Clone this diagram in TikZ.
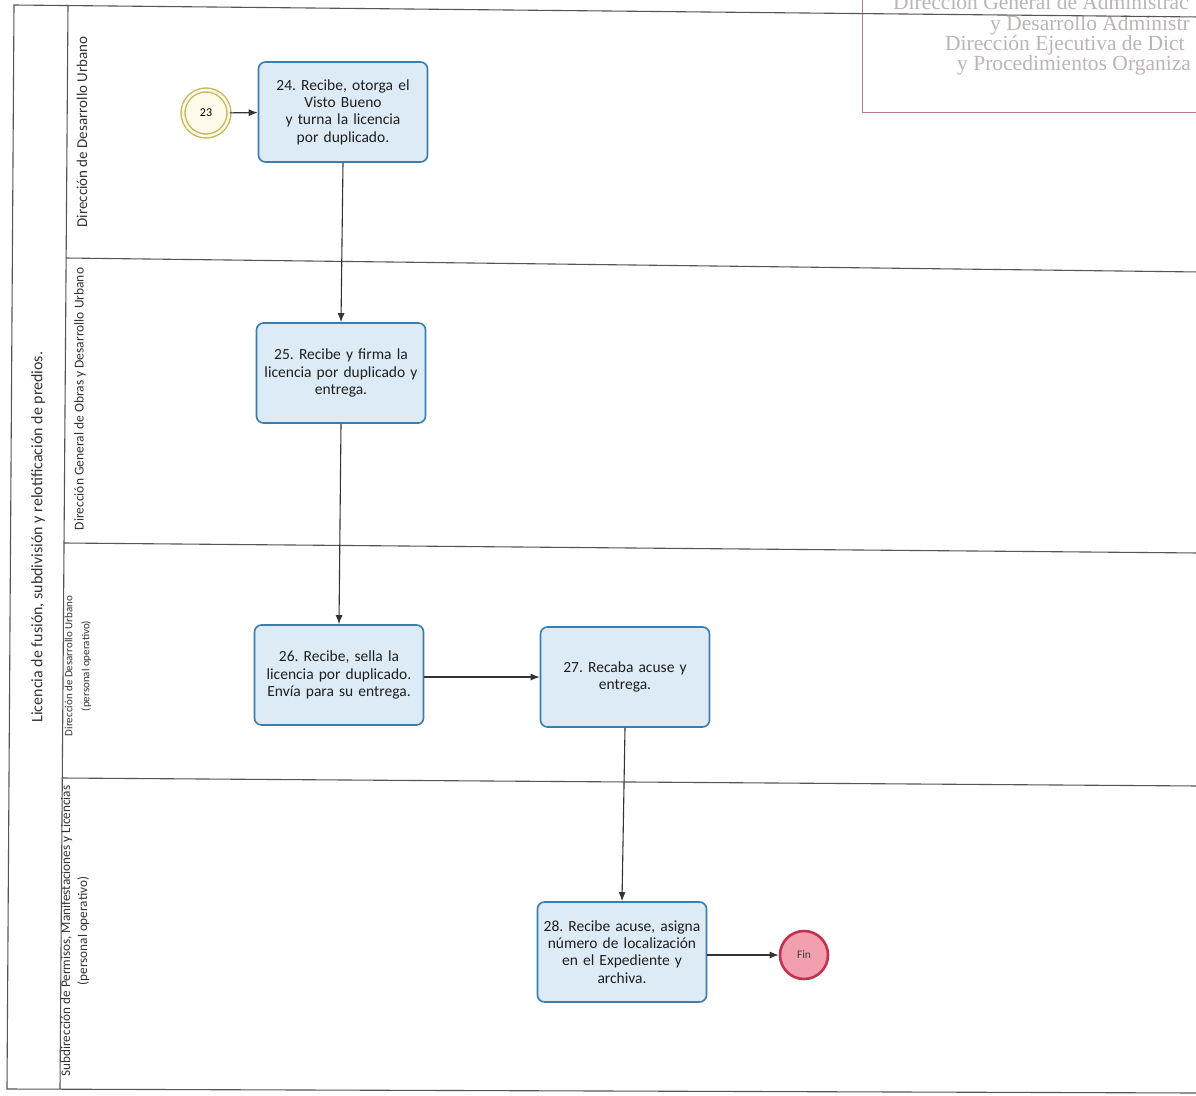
\documentclass[tikz,border=0pt]{standalone}
\usepackage{fontspec}
\setmainfont{Carlito}
\newfontfamily\stampfont{Liberation Serif}
\usetikzlibrary{arrows.meta}
\definecolor{taskfill}{HTML}{DCEBF6}
\definecolor{taskdraw}{HTML}{3C7DAE}
\definecolor{startdraw}{HTML}{C9B45A}
\definecolor{startfill}{HTML}{FFFBEA}
\definecolor{enddraw}{HTML}{C4304E}
\definecolor{endfill}{HTML}{F2A0B0}
\definecolor{lanecol}{HTML}{555555}
\definecolor{stampline}{HTML}{B27C8C}
\definecolor{stamptext}{HTML}{BDB4B4}
\frenchspacing
\tikzset{
  task/.style={draw=taskdraw, line width=1.6pt, fill=taskfill, rounded corners=7pt,
    minimum width=169pt, minimum height=100pt, text width=162pt, align=center,
    font=\fontsize{15.5}{17.3}\selectfont, text=black!88},
  startev/.style={circle, draw=startdraw, line width=1.4pt, fill=startfill, minimum size=46pt,
    double=startfill, double distance=2.5pt, font=\fontsize{12}{14}\selectfont},
  endev/.style={circle, draw=enddraw, line width=2.6pt, fill=endfill, minimum size=48pt,
    font=\fontsize{11.5}{14}\selectfont, text=black!75},
  flow/.style={draw=black!80, line width=1.1pt, -{Latex[length=9pt,width=7pt]}},
  lane/.style={draw=lanecol, line width=1.1pt},
  lanelabel/.style={rotate=90, align=center, text=black!80},
  stamp/.style={font=\stampfont\fontsize{21.5}{20}\selectfont, text=stamptext, anchor=base west, inner sep=0pt}
}
\begin{document}
\begin{tikzpicture}[x=1pt,y=-1pt]
\useasboundingbox (0,0) rectangle (1196,1095);
\clip (0,0) rectangle (1196,1095);
\fill[white] (0,0) rectangle (1196,1095);

% stamp
\draw[stampline, line width=1pt] (862,-5) -- (862,112) -- (1200,112);
\node[stamp] (s1) at (893,9) {Dirección General de Administrac};
\node[stamp] (s2) at (990,30) {y Desarrollo Administr};
\node[stamp] (s3) at (945,50) {Dirección Ejecutiva de Dict};
\node[stamp] (s4) at (957,70) {y Procedimientos Organiza};

% pool frame and lanes
\coordinate (tl) at (14,5);
\coordinate (bl) at (7,1089);
\coordinate (dt) at (68,5);
\coordinate (db) at (60,1089);
\draw[lane] (1200,17) -- (tl) -- (bl) -- (1200,1093);
\draw[lane] (dt) -- (db);
\draw[lane] (66,258) -- (1200,272);
\draw[lane] (64,543) -- (1200,553);
\draw[lane] (62,778) -- (1200,786);

% pool and lane labels
\node[lanelabel, font=\fontsize{16}{18}\selectfont] (pool) at (38,537) {Licencia de fusión, subdivisión y relotificación de predios.};
\node[lanelabel, font=\fontsize{15}{17}\selectfont] (l1) at (82,132) {Dirección de Desarrollo Urbano};
\node[lanelabel, font=\fontsize{13.5}{15}\selectfont] (l2) at (80,399) {Dirección General de Obras y Desarrollo Urbano};
\node[lanelabel, font=\fontsize{11}{17}\selectfont] (l3) at (78,666) {Dirección de Desarrollo Urbano\\(personal operativo)};
\node[lanelabel, font=\fontsize{13.2}{17}\selectfont] (l4) at (75,931) {Subdirección de Permisos, Manifestaciones y Licencias\\(personal operativo)};

% events and tasks
\node[startev] (start) at (206,113) {23};
\node[task] (t24) at (343,112) {24. Recibe, otorga el\\Visto Bueno\\y turna la licencia\\por duplicado.\\[6pt]};
\node[task] (t25) at (341,373) {25. Recibe y firma la\\licencia por duplicado y\\entrega.\\[9pt]};
\node[task] (t26) at (339,675) {26. Recibe, sella la\\licencia por duplicado.\\Envía para su entrega.\\[9pt]};
\node[task] (t27) at (625,677) {27. Recaba acuse y\\entrega.};
\node[task] (t28) at (622,952) {28. Recibe acuse, asigna\\número de localización\\en el Expediente y\\archiva.};
\node[endev] (fin) at (804,955) {Fin};

% flows
\draw[flow] (start) -- (t24);
\draw[flow] (t24.south) -- (t25.north);
\draw[flow] (t25.south) -- (t26.north);
\draw[flow] (t26.east |- t27.west) -- (t27.west);
\draw[flow] (t27.south) -- (t28.north);
\draw[flow] (t28.east |- fin.west) -- (fin.west);
\end{tikzpicture}
\end{document}
